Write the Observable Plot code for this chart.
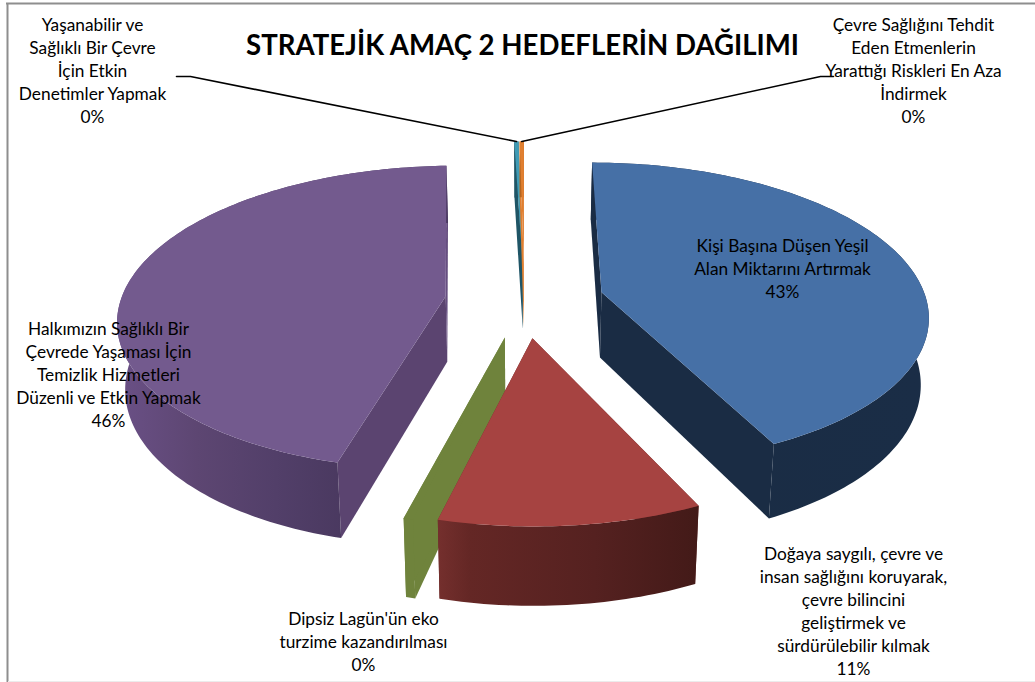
<!DOCTYPE html>
<html><head><meta charset="utf-8">
<style>html,body{margin:0;padding:0;background:#fff}svg{display:block}</style>
<script src="https://cdn.jsdelivr.net/npm/d3@7"></script>
<script src="https://cdn.jsdelivr.net/npm/@observablehq/plot@0.6"></script>
</head><body><div id="c"></div>
<script>
const categories = [
  "Kişi Başına Düşen Yeşil\nAlan Miktarını Artırmak",
  "Doğaya saygılı, çevre ve\ninsan sağlığını koruyarak,\nçevre bilincini\ngeliştirmek ve\nsürdürülebilir kılmak",
  "Dipsiz Lagün'ün eko\nturzime kazandırılması",
  "Halkımızın Sağlıklı Bir\nÇevrede Yaşaması İçin\nTemizlik Hizmetleri\nDüzenli ve Etkin Yapmak",
  "Yaşanabilir ve\nSağlıklı Bir Çevre\nİçin Etkin\nDenetimler Yapmak",
  "Çevre Sağlığını Tehdit\nEden Etmenlerin\nYarattığı Riskleri En Aza\nİndirmek"
];
const values = [43, 11, 0.4, 45.6, 0.25, 0.25];
const percentLabels = ["43%", "11%", "0%", "46%", "0%", "0%"];
const titleText = "STRATEJİK AMAÇ 2 HEDEFLERİN DAĞILIMI";

const topColors = ["#4670a6", "#a64341", "#6f833c", "#735a8e", "#3f9bb5", "#e07f30"];
const startFaceColors = ["#1a2c44", "#6b2b2a", "#6f833c", "#5b4470", "#1f5566", "#e07f30"];
const endFaceColors = ["#1a2c44", "#6b2b2a", "#6f833c", "#664f80", "#1f5566", "#e07f30"];
const wallFills = ["url(#wBlue)", "url(#wRed)", "#6f833c", "url(#wPurple)", "#1f5566", "#b5651f"];
const labelX = [782, 853, 363, 108, 92, 913];
const labelY = [267, 609.5, 640, 373, 69, 69];
const angleNudgeDeg = [0, 0.75, -0.35, 0, 0, 0];
const drawOrder = [4, 5, 0, 3, 2, 1];

// projection of the exploded, tilted pie
const W = 1035, H = 682;
const cx = 524, cy = 300, A = 325, B = 150, persp = 0.14, depth = 65.6, explode = 0.245;
const project = (X, Y, Z) => {
  const w = 1 / (1 + persp * Y);
  return {x: cx + A * X * w * (1 - 0.02 * Z), y: cy - B * Y * w + depth * w * Z};
};
const total = d3.sum(values);
let acc = 0;
const slices = values.map((v, i) => {
  const nudge = angleNudgeDeg[i] * Math.PI / 180;
  const a0 = acc / total * 2 * Math.PI + nudge; acc += v;
  const a1 = acc / total * 2 * Math.PI + nudge;
  const m = (a0 + a1) / 2;
  return {i, a0, a1, ox: explode * Math.sin(m), oy: explode * Math.cos(m)};
});
const rim = (s, a, Z) => project(s.ox + Math.sin(a), s.oy + Math.cos(a), Z);
const hub = (s, Z) => project(s.ox, s.oy, Z);
const arc = (s, Z, rev) => {
  const n = Math.max(2, Math.ceil((s.a1 - s.a0) / 0.02));
  const pts = d3.range(n + 1).map(k => rim(s, s.a0 + (s.a1 - s.a0) * k / n, Z));
  return rev ? pts.reverse() : pts;
};
const poly = (pts, fill) => Plot.line([...pts, pts[0]], {x: "x", y: "y", fill, stroke: "none", curve: "linear"});

const marks = [];
const defs = () => {
  const svgNS = "http://www.w3.org/2000/svg";
  const g = document.createElementNS(svgNS, "defs");
  const grad = (id, x1, x2, stops) => {
    const lg = document.createElementNS(svgNS, "linearGradient");
    lg.setAttribute("id", id); lg.setAttribute("gradientUnits", "userSpaceOnUse");
    lg.setAttribute("x1", x1); lg.setAttribute("x2", x2); lg.setAttribute("y1", 0); lg.setAttribute("y2", 0);
    stops.forEach(([o, c]) => {
      const st = document.createElementNS(svgNS, "stop");
      st.setAttribute("offset", o); st.setAttribute("stop-color", c); lg.appendChild(st);
    });
    g.appendChild(lg);
  };
  grad("wBlue", 600, 925, [[0, "#1a2c44"], [1, "#1a2d46"]]);
  grad("wRed", 438, 698, [[0, "#742f2d"], [0.12, "#642725"], [0.6, "#552120"], [1, "#431a18"]]);
  grad("wPurple", 117, 343, [[0, "#6a5086"], [0.35, "#5d4672"], [0.7, "#523f69"], [1, "#4a3960"]]);
  return g;
};
marks.push(defs);

// frame lines
marks.push(Plot.ruleY([3], {x1: 6, x2: W, stroke: "#8e8e8e", strokeWidth: 2}));
marks.push(Plot.ruleX([7], {y1: 3, y2: 682, stroke: "#8e8e8e", strokeWidth: 2}));
marks.push(Plot.ruleY([681], {x1: 8, x2: W, stroke: "#ececec", strokeWidth: 1}));

for (const i of drawOrder) {
  const s = slices[i];
  marks.push(poly([hub(s, 0), rim(s, s.a0, 0), rim(s, s.a0, 1), hub(s, 1)], startFaceColors[i]));
  marks.push(poly([hub(s, 0), rim(s, s.a1, 0), rim(s, s.a1, 1), hub(s, 1)], endFaceColors[i]));
  marks.push(poly([...arc(s, 0), ...arc(s, 1, true)], wallFills[i]));
  marks.push(poly([hub(s, 0), ...arc(s, 0)], topColors[i]));
}

// leader lines to the two small back slices
const lead = (s, ex, bend) => {
  const p = rim(s, (s.a0 + s.a1) / 2, 0);
  return [p, {x: bend, y: 76}, {x: ex, y: 76}];
};
for (const [i, ex, bend] of [[4, 176, 190], [5, 833, 820]])
  marks.push(Plot.line(lead(slices[i], ex, bend), {x: "x", y: "y", stroke: "#000", strokeWidth: 1.6, curve: "linear"}));

// labels
const labelRows = categories.map((c, i) => ({t: c + "\n" + percentLabels[i], x: labelX[i], y: labelY[i]}));
marks.push(Plot.text(labelRows, {x: "x", y: "y", text: "t", fontSize: 17.3, lineHeight: 1.33, fill: "#000",
  fontFamily: "Lato, Carlito, sans-serif", textAnchor: "middle", lineAnchor: "middle"}));
marks.push(Plot.text([titleText], {x: () => 522, y: () => 46, text: d => d, fontSize: 27.6, fontWeight: 700, fill: "#000",
  fontFamily: "Lato, Carlito, sans-serif", textAnchor: "middle", lineAnchor: "middle"}));

const chart = Plot.plot({
  width: W, height: H, margin: 0,
  x: {domain: [0, W], range: [0, W], axis: null},
  y: {domain: [0, H], range: [0, H], axis: null},
  style: {background: "#fff"},
  marks
});
document.getElementById("c").appendChild(chart);
</script></body></html>
